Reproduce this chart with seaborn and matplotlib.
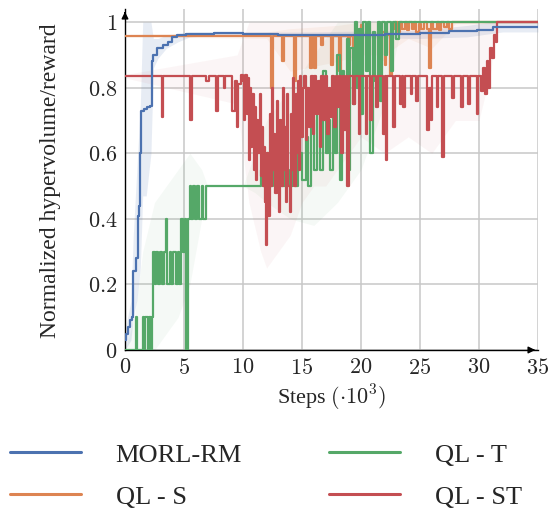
import seaborn as sns
import numpy as np
import pandas as pd
import matplotlib
matplotlib.use('Agg')
import matplotlib.pyplot as plt
from matplotlib.ticker import FuncFormatter

# steps in thousands
morl_x = [0, 0.1, 0.25, 0.4, 0.57, 0.64, 0.9, 1.13, 1.2, 1.3, 1.35, 1.6, 1.85, 2.1, 2.26, 2.4, 2.7,
          3.2, 3.65, 3.95, 4.4, 5.2, 7.5, 10, 13, 18, 22, 25, 27.5, 29.8, 31.2, 35]
morl_y = [0.03, 0.05, 0.07, 0.09, 0.10, 0.24, 0.28, 0.41, 0.44, 0.60, 0.73, 0.735, 0.74, 0.745, 0.88,
          0.90, 0.92, 0.93, 0.94, 0.955, 0.96, 0.965, 0.966, 0.964, 0.961, 0.962, 0.965, 0.968, 0.972,
          0.977, 0.984, 0.984]
morl_bx = [0, 0.5, 0.7, 1.0, 1.3, 1.5, 1.8, 2.2, 2.4, 2.8, 3.5, 4.5, 5.5, 8, 15, 25, 29, 31, 32, 35]
morl_lo = [0.0, 0.03, 0.10, 0.15, 0.25, 0.47, 0.47, 0.60, 0.86, 0.89, 0.92, 0.94, 0.955, 0.96, 0.955,
           0.95, 0.955, 0.965, 0.97, 0.97]
morl_hi = [0.06, 0.15, 0.35, 0.55, 0.75, 1.0, 1.0, 1.0, 0.95, 0.95, 0.96, 0.965, 0.97, 0.97, 0.97,
           0.975, 0.99, 1.0, 1.0, 1.0]

qls_x = [0, 12.4, 12.55, 13.3, 13.45, 14.35, 14.5, 15.7, 15.85, 16.05, 16.2, 16.65, 16.8, 17.45, 17.6,
         18.15, 18.3, 18.9, 19.05, 19.35, 19.5, 20.0, 20.2, 21.6, 21.75, 22.0, 22.15, 22.45, 22.6, 22.9,
         23.1, 23.3, 23.5, 23.7, 23.9, 24.1, 24.3, 24.5, 24.7, 24.9, 25.1, 25.3, 25.6, 25.8, 25.9, 26.1,
         26.4, 26.6, 26.8, 27.0, 27.3, 27.5, 27.7, 35]
qls_y = [0.958, 0.80, 0.958, 0.88, 0.958, 0.82, 0.958, 0.86, 0.958, 0.86, 0.958, 0.93, 0.958, 0.87,
         0.958, 0.85, 0.958, 0.93, 0.958, 0.88, 0.96, 0.99, 0.96, 0.88, 0.97, 0.87, 0.96, 0.84, 0.98,
         1.0, 0.97, 1.0, 0.98, 1.0, 0.975, 1.0, 0.98, 1.0, 0.97, 0.995, 0.98, 1.0, 0.98, 0.86, 1.0,
         0.98, 1.0, 0.975, 1.0, 0.985, 1.0, 0.98, 1.0, 1.0]
qls_bx = [0, 12, 14, 18, 20, 22, 24, 26, 28, 35]
qls_lo = [0.955, 0.95, 0.85, 0.88, 0.90, 0.90, 0.95, 0.92, 0.995, 0.995]
qls_hi = [0.962, 0.97, 0.98, 0.99, 1.0, 1.0, 1.0, 1.0, 1.0, 1.0]

qlt_x = [0, 0.93, 1.05, 1.5, 1.6, 1.7, 1.95, 2.0, 2.2, 2.3, 2.4, 2.5, 2.65, 2.8, 2.95, 3.1, 3.3, 3.5,
         3.6, 3.8, 3.9, 4.1, 4.3, 4.5, 4.6, 4.75, 4.9, 5.05, 5.2, 5.35, 5.5, 5.6, 5.8, 5.9, 6.1, 6.3,
         6.5, 6.6, 6.85, 11.5, 11.7, 12.0, 12.2, 12.5, 12.8, 13.1, 13.3, 13.6, 13.9, 14.2, 14.4, 14.7,
         15.0, 15.3, 15.5, 15.8, 16.0, 16.3, 16.5, 16.8, 17.0, 17.2, 17.4, 17.6, 17.8, 18.0, 18.2,
         18.4, 18.6, 18.8, 18.95, 19.1, 19.3, 19.5, 19.65, 19.8, 20.0, 20.2, 20.4, 20.6, 20.8, 21.0,
         21.2, 21.4, 21.6, 21.8, 22.0, 22.2, 22.5, 22.7, 23.0, 23.2, 35]
qlt_y = [0, 0.1, 0, 0.1, 0, 0.1, 0, 0.1, 0, 0.1, 0.3, 0.2, 0.3, 0.2, 0.3, 0.2, 0.3, 0.4, 0.2, 0.3,
         0.2, 0.3, 0.2, 0.3, 0.2, 0.4, 0.3, 0.4, 0.0, 0.4, 0.5, 0.4, 0.5, 0.4, 0.5, 0.4, 0.5, 0.4, 0.5,
         0.55, 0.5, 0.6, 0.5, 0.58, 0.5, 0.6, 0.5, 0.55, 0.5, 0.62, 0.5, 0.6, 0.52, 0.65, 0.5, 0.7,
         0.55, 0.75, 0.55, 0.85, 0.6, 0.7, 0.55, 0.82, 0.6, 0.9, 0.52, 0.85, 0.7, 0.95, 0.55, 0.92, 0.75,
         1.0, 0.8, 0.98, 0.72, 1.0, 0.85, 1.0, 0.60, 0.97, 0.82, 1.0, 0.76, 1.0, 0.9, 1.0, 0.85, 1.0,
         0.95, 1.0, 1.0]
qlt_bx = [0, 0.8, 1.5, 2.5, 3.5, 4.5, 5.5, 6.5, 7, 10, 11, 12, 14, 16, 18, 20, 22, 23.5, 35]
qlt_lo = [0, 0, 0, 0, 0.05, 0.1, 0.2, 0.4, 0.5, 0.5, 0.48, 0.45, 0.40, 0.38, 0.45, 0.55, 0.75, 1.0, 1.0]
qlt_hi = [0, 0.1, 0.3, 0.45, 0.5, 0.55, 0.6, 0.55, 0.5, 0.5, 0.6, 0.7, 0.8, 0.9, 1.0, 1.0, 1.0, 1.0, 1.0]

qlst_x = [0, 3.1, 3.25, 5.55, 5.7, 6.9, 7.1, 7.75, 7.9, 8.35, 8.5, 9.1, 9.3, 9.45, 9.6, 9.8,
          10.0, 10.1, 10.2, 10.3, 10.4, 10.5, 10.6, 10.7, 10.8, 10.9, 11.0, 11.1, 11.2, 11.3, 11.4,
          11.5, 11.6, 11.7, 11.8, 11.9, 11.95, 12.05, 12.15, 12.25, 12.35, 12.45, 12.55, 12.65, 12.75,
          12.85, 12.95, 13.05, 13.15, 13.25, 13.35, 13.45, 13.55, 13.65, 13.75, 13.85, 13.95, 14.05,
          14.15, 14.25, 14.35, 14.45, 14.55, 14.65, 14.75, 14.85, 14.95, 15.05,
          15.15, 15.3, 15.45, 15.6, 15.75, 15.9, 16.05, 16.2, 16.35,
          16.5, 16.65, 16.8, 16.95, 17.1, 17.25, 17.4, 17.55, 17.7, 17.85, 18.0, 18.15, 18.3, 18.45,
          18.6, 18.75, 18.85, 18.95, 19.3, 19.45, 19.8, 19.95, 20.4, 20.55, 20.8, 20.95, 21.3, 21.45,
          21.9, 22.0, 22.1, 22.2, 22.7, 22.85, 23.3, 23.45, 23.6, 23.75, 24.2, 24.35, 24.7, 24.85,
          25.6, 25.75, 25.9, 26.05, 26.4, 26.55, 26.9, 27.0, 27.7, 27.85, 28.5, 28.65, 29.1, 29.25,
          29.8, 29.95, 30.2, 30.35, 30.5, 30.65, 30.8, 30.95, 31.1, 31.25, 31.4, 31.55, 35]
qlst_y = [0.835, 0.71, 0.835, 0.70, 0.835, 0.82, 0.835, 0.73, 0.835, 0.80, 0.835, 0.73, 0.82, 0.68,
          0.81, 0.84,
          0.82, 0.70, 0.84, 0.72, 0.83, 0.58, 0.80, 0.62, 0.78, 0.55, 0.74, 0.52, 0.70, 0.60, 0.78,
          0.53, 0.68, 0.50, 0.62, 0.45, 0.32, 0.60, 0.41, 0.72, 0.50, 0.80, 0.55, 0.66, 0.48,
          0.76, 0.52, 0.42, 0.70, 0.50, 0.80, 0.55, 0.68, 0.45, 0.78, 0.50, 0.42, 0.72,
          0.55, 0.83, 0.50, 0.78, 0.60, 0.82, 0.55, 0.835, 0.65, 0.80,
          0.835, 0.64, 0.80, 0.68, 0.835, 0.66, 0.835, 0.72, 0.82,
          0.62, 0.835, 0.70, 0.835, 0.66, 0.80, 0.71, 0.835, 0.68, 0.835, 0.74, 0.835, 0.60, 0.835,
          0.67, 0.835, 0.50, 0.835, 0.75, 0.835, 0.66, 0.835, 0.66, 0.835, 0.70, 0.835, 0.74, 0.835,
          0.66, 0.835, 0.58, 0.835, 0.68, 0.835, 0.75, 0.835, 0.74, 0.835, 0.78, 0.835, 0.76, 0.835,
          0.67, 0.80, 0.70, 0.835, 0.74, 0.835, 0.59, 0.835, 0.77, 0.835, 0.74, 0.835, 0.75, 0.835,
          0.72, 0.835, 0.79, 0.86, 0.78, 0.88, 0.80, 0.92, 0.89, 0.96, 0.94, 1.0, 1.0]
qlst_bx = [0, 9.5, 10.5, 11.5, 12, 13, 14, 15, 16, 17, 18, 19, 20, 22, 24, 26, 28, 30, 31, 31.5, 35]
qlst_lo = [0.83, 0.75, 0.45, 0.30, 0.25, 0.30, 0.35, 0.45, 0.50, 0.50, 0.55, 0.60, 0.65, 0.60, 0.65,
           0.60, 0.70, 0.70, 0.85, 1.0, 1.0]
qlst_hi = [0.84, 0.9, 1.0, 1.0, 1.0, 1.0, 1.0, 1.0, 1.0, 1.0, 1.0, 1.0, 1.0, 1.0, 1.0, 1.0, 1.0, 1.0,
           1.0, 1.0, 1.0]

series = [
    ('MORL-RM', morl_x, morl_y, morl_bx, morl_lo, morl_hi, 0.13, 6),
    ('QL - S', qls_x, qls_y, qls_bx, qls_lo, qls_hi, 0.08, 3),
    ('QL - T', qlt_x, qlt_y, qlt_bx, qlt_lo, qlt_hi, 0.06, 4),
    ('QL - ST', qlst_x, qlst_y, qlst_bx, qlst_lo, qlst_hi, 0.05, 5),
]

sns.set_style('white')
plt.rcParams['font.family'] = ['Liberation Serif', 'DejaVu Serif']
plt.rcParams['mathtext.fontset'] = 'cm'
colors = sns.color_palette('deep')
cols = [colors[0], colors[1], colors[2], colors[3]]

fig = plt.figure(figsize=(5.51, 5.10), dpi=100)
ax = fig.add_axes([125 / 551, 1 - 351 / 510, 413 / 551, 341 / 510])

for (name, x, y, bx, lo, hi, alpha, z), c in zip(series, cols):
    ax.fill_between(bx, lo, hi, color=c, alpha=alpha, lw=0, zorder=1)
    df = pd.DataFrame({'step': x, 'val': y})
    sns.lineplot(data=df, x='step', y='val', ax=ax, color=c, lw=1.6, estimator=None, sort=False,
                 drawstyle='steps-post', label=name, zorder=z)

ax.set_xlim(0, 35)
ax.set_ylim(0, 1.04)
ax.set_xticks([0, 5, 10, 15, 20, 25, 30, 35])
ax.set_yticks([0, 0.2, 0.4, 0.6, 0.8, 1.0])
fmt = FuncFormatter(lambda v, p: '$%g$' % round(v, 2))
ax.xaxis.set_major_formatter(fmt)
ax.yaxis.set_major_formatter(fmt)
ax.tick_params(labelsize=16, direction='inout', length=5, width=0.8, color='#333333', pad=3)
ax.grid(True, color='#c8c8c8', lw=1.1)
ax.set_axisbelow(True)
for s in ['top', 'right']:
    ax.spines[s].set_visible(False)
for s in ['left', 'bottom']:
    ax.spines[s].set_color('black')
    ax.spines[s].set_linewidth(1.0)
ax.annotate('', xy=(1.0, 0), xytext=(0.98, 0), xycoords='axes fraction',
            arrowprops=dict(arrowstyle='-|>', color='black', lw=1.0, mutation_scale=10))
ax.annotate('', xy=(0, 1.0), xytext=(0, 0.98), xycoords='axes fraction',
            arrowprops=dict(arrowstyle='-|>', color='black', lw=1.0, mutation_scale=10))

ax.set_xlabel('Steps $(\\cdot 10^3)$', fontsize=16, labelpad=3)
ax.set_ylabel('Normalized hypervolume/reward', fontsize=17, labelpad=19)

handles, labels = ax.get_legend_handles_labels()
ax.legend().remove()
leg = fig.legend(handles, labels, ncol=2, loc='upper left', bbox_to_anchor=(10 / 551, 1 - 444 / 510),
                 frameon=False, fontsize=19, handlelength=2.7, handletextpad=1.3, columnspacing=3.3,
                 labelspacing=0.68, borderpad=0, borderaxespad=0)
for h in leg.legend_handles:
    h.set_linewidth(2.2)

fig.savefig('out.png', dpi=100)
